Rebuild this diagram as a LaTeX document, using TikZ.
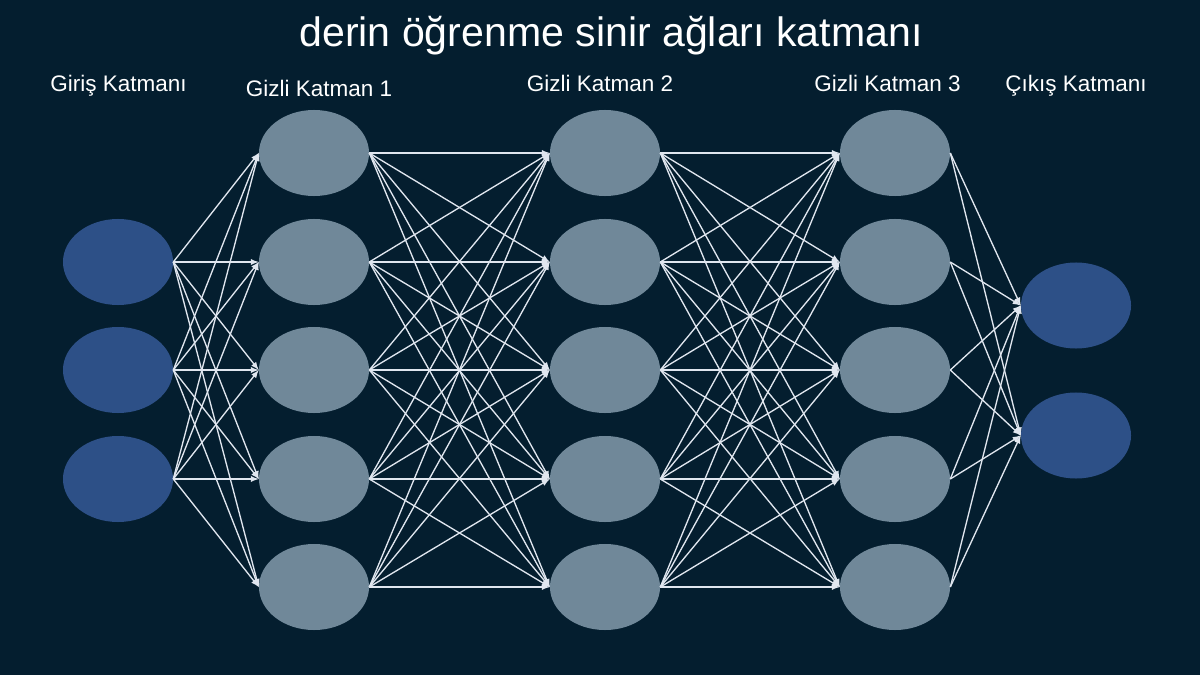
\documentclass[tikz,border=0pt]{standalone}
\usepackage{fontspec}
\setmainfont{Liberation Sans}
\usetikzlibrary{arrows,shapes.geometric}
\newcommand{\NetArrowType}{latex}
\definecolor{netback}{HTML}{041E2F}
\definecolor{netouter}{HTML}{2D5087}
\definecolor{nethidden}{HTML}{708899}
\definecolor{netline}{HTML}{E0E6EF}
\tikzset{
  neuron/.style={ellipse,draw=none,inner sep=0pt,minimum width=2.75cm,minimum height=2.15cm},
  outerneuron/.style={neuron,fill=netouter},
  hiddenneuron/.style={neuron,fill=nethidden},
  layerlabel/.style={text=white,font=\fontsize{16}{19}\selectfont,anchor=base},
  link/.style={->,draw=netline,line width=0.95pt}
}
\begin{document}
\begin{tikzpicture}[>=\NetArrowType,x=0.025cm,y=-0.025cm]
				\fill[netback] (0,0) rectangle (1200,675);
				\useasboundingbox (0,0) rectangle (1200,675);
				\node[text=white,font=\fontsize{29.2}{34}\selectfont,anchor=base] (title) at (611,47) {derin öğrenme sinir ağları katmanı};
				\node[layerlabel] (linput) at (118.5,92) {Giriş Katmanı};
				\node[layerlabel] (lhidA) at (319,97) {Gizli Katman 1};
				\node[layerlabel] (lhidB) at (600,92) {Gizli Katman 2};
				\node[layerlabel] (lhidC) at (887.5,92) {Gizli Katman 3};
				\node[layerlabel] (loutput) at (1076,92) {Çıkış Katmanı};
				\node[outerneuron] (in1) at (118,262) {};
				\node[outerneuron] (in2) at (118,370) {};
				\node[outerneuron] (in3) at (118,479) {};
				\foreach \y [count=\k] in {153,262,370,479,587} {
					\node[hiddenneuron] (ha\k) at (314,\y) {};
					\node[hiddenneuron] (hb\k) at (605,\y) {};
					\node[hiddenneuron] (hc\k) at (895,\y) {};
				}
				\node[outerneuron] (out1) at (1076,305.5) {};
				\node[outerneuron] (out2) at (1076,435.5) {};
				\foreach \a in {1,...,3}
					\foreach \b in {1,...,5}
						\draw[link] (in\a.east) -- (ha\b.west);
				\foreach \a in {1,...,5}
					\foreach \b in {1,...,5} {
						\draw[link] (ha\a.east) -- (hb\b.west);
						\draw[link] (hb\a.east) -- (hc\b.west);
					}
				\foreach \a in {1,...,5}
					\foreach \b in {1,2}
						\draw[link] (hc\a.east) -- (out\b.west);
		\end{tikzpicture}
\end{document}
